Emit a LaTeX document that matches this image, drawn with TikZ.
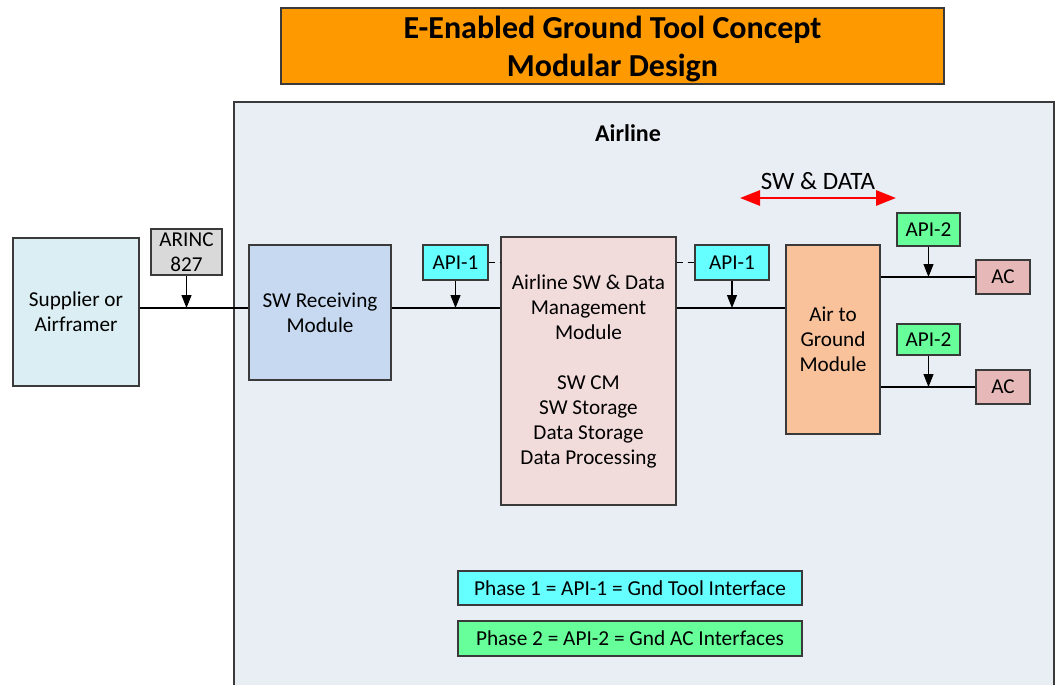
\documentclass[tikz,border=0pt]{standalone}
\usepackage{fontspec}
\setmainfont{Carlito}
\usetikzlibrary{arrows.meta}
\definecolor{orangeT}{HTML}{FF9900}
\definecolor{airbg}{HTML}{E9EDF4}
\definecolor{supc}{HTML}{DBEEF3}
\definecolor{arincc}{HTML}{D9D9D9}
\definecolor{swrc}{HTML}{C6D9F1}
\definecolor{apione}{HTML}{66FFFF}
\definecolor{aswc}{HTML}{F2DCDB}
\definecolor{atgc}{HTML}{F9C29B}
\definecolor{apitwo}{HTML}{66FF99}
\definecolor{acc}{HTML}{E6B9B8}
\definecolor{bordc}{HTML}{3A3A3A}
\tikzset{
  box/.style={draw=bordc, line width=1.2pt, inner sep=0pt, align=center,
    font=\fontsize{21.2}{25}\selectfont},
  conn/.style={line width=1.1pt, black},
  tip/.style={conn, -{Triangle[width=10pt,length=13pt]}},
  dashconn/.style={conn, dash pattern=on 6pt off 5pt},
}
\begin{document}
\begin{tikzpicture}[x=1pt,y=-1pt]
\useasboundingbox (0,0) rectangle (1055,685);
% airline container
\node[box, fill=airbg, minimum width=820pt, minimum height=590pt] (air) at (644,397) {};
\node[font=\bfseries\fontsize{24}{28}\selectfont] (airt) at (628,133) {Airline};
% title
\node[box, fill=orangeT, minimum width=663pt, minimum height=76pt] (title) at (612.5,46) {};
\node[align=center, font=\bfseries\fontsize{32}{38}\selectfont] (titlet) at (612.5,49) {E-Enabled Ground Tool Concept\\Modular Design};
% blocks
\node[box, fill=supc, minimum width=126pt, minimum height=148pt] (sup) at (76,312) {Supplier or\\Airframer};
\node[box, fill=arincc, minimum width=71pt, minimum height=46pt] (arinc) at (186.5,252) {ARINC\\827};
\node[box, fill=swrc, minimum width=142pt, minimum height=135pt] (swr) at (320,312.5) {SW Receiving\\Module};
\node[box, fill=apione, minimum width=65pt, minimum height=35pt] (apia) at (455.5,262.5) {API-1};
\node[box, fill=aswc, minimum width=175pt, minimum height=268pt] (asw) at (588.5,371)
  {Airline SW \& Data\\Management\\Module\\[25pt]SW CM\\SW Storage\\Data Storage\\Data Processing};
\node[box, fill=apione, minimum width=74pt, minimum height=35pt] (apib) at (732,262.5) {API-1};
\node[box, fill=atgc, minimum width=94pt, minimum height=189pt] (atg) at (833,339.5) {Air to\\Ground\\Module};
\node[box, fill=apitwo, minimum width=63pt, minimum height=33pt] (apic) at (928.5,229.5) {API-2};
\node[box, fill=acc, minimum width=54pt, minimum height=34pt] (aca) at (1003,277) {AC};
\node[box, fill=apitwo, minimum width=63pt, minimum height=31pt] (apid) at (928.5,339.5) {API-2};
\node[box, fill=acc, minimum width=54pt, minimum height=34pt] (acb) at (1003,387) {AC};
\node[box, fill=apione, minimum width=344pt, minimum height=34pt, font=\fontsize{21.3}{25}\selectfont] (ph1) at (630,588) {Phase 1 = API-1 = Gnd Tool Interface};
\node[box, fill=apitwo, minimum width=344pt, minimum height=35pt, font=\fontsize{21.3}{25}\selectfont] (ph2) at (630,638.5) {Phase 2 = API-2 = Gnd AC Interfaces};
% SW & DATA
\node[font=\fontsize{25}{29}\selectfont] (swd) at (818,181) {SW \& DATA};
\coordinate (ra) at (740,198);
\coordinate (rb) at (896,198);
\draw[red, line width=2.8pt, {Triangle[width=15pt,length=20pt]}-{Triangle[width=15pt,length=20pt]}] (ra) -- (rb);
% main line
\coordinate (m) at (186,308);
\draw[conn] (sup.east |- m) -- (swr.west |- m);
\draw[conn] (swr.east |- m) -- (asw.west |- m);
\draw[conn] (asw.east |- m) -- (atg.west |- m);
\draw[tip] (arinc.south) -- (arinc.south |- m);
\draw[tip] (apia.south) -- (apia.south |- m);
\draw[tip] (apib.south) -- (apib.south |- m);
\draw[dashconn] (apia.east) -- (asw.west |- apia.east);
\draw[dashconn] (asw.east |- apib.west) -- (apib.west);
% AC lines
\draw[conn] (atg.east |- aca.west) -- (aca.west);
\draw[conn] (atg.east |- acb.west) -- (acb.west);
\draw[tip] (apic.south) -- (apic.south |- aca.west);
\draw[tip] (apid.south) -- (apid.south |- acb.west);
\end{tikzpicture}
\end{document}
